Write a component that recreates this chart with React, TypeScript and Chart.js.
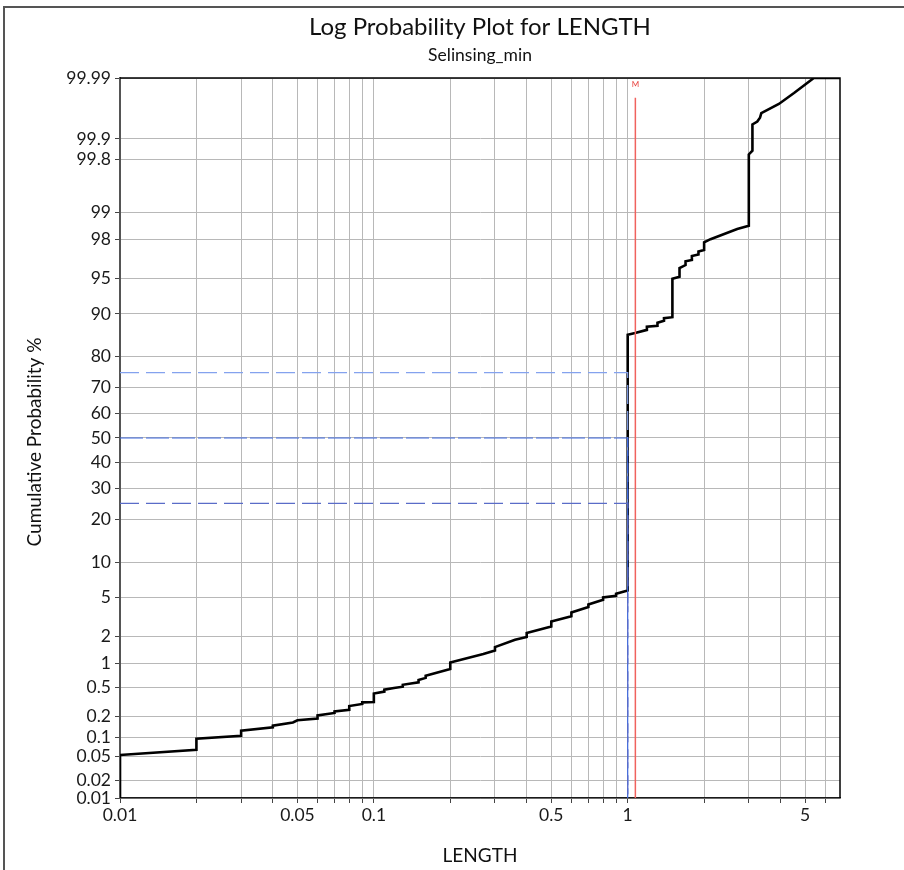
import React, { useEffect, useRef } from "react";
import { Chart, registerables } from "chart.js";

Chart.register(...registerables);

const titleText = "Log Probability Plot for LENGTH";
const subtitleText = "Selinsing_min";
const xAxisTitle = "LENGTH";
const yAxisTitle = "Cumulative Probability %";

const probTicks = [0.01, 0.02, 0.05, 0.1, 0.2, 0.5, 1, 2, 5, 10, 20, 30, 40, 50, 60, 70, 80, 90, 95, 98, 99, 99.8, 99.9, 99.99];
const probTickLabels = ["0.01", "0.02", "0.05", "0.1", "0.2", "0.5", "1", "2", "5", "10", "20", "30", "40", "50", "60", "70", "80", "90", "95", "98", "99", "99.8", "99.9", "99.99"];

const lengthTicks = [0.01, 0.02, 0.03, 0.04, 0.05, 0.06, 0.07, 0.08, 0.09, 0.1, 0.2, 0.3, 0.4, 0.5, 0.6, 0.7, 0.8, 0.9, 1, 2, 3, 4, 5, 6];
const lengthTickLabels = ["0.01", "", "", "", "0.05", "", "", "", "", "0.1", "", "", "", "0.5", "", "", "", "", "1", "", "", "", "5", ""];
const lengthMin = 0.01;
const lengthMax = 6.86;
const probMin = 0.01;
const probMax = 99.99;

// cumulative curve vertices (LENGTH, cumulative %)
const curveLength = [
  0.01, 0.01, 0.02, 0.02, 0.03, 0.03, 0.04, 0.04, 0.048, 0.05, 0.06, 0.06, 0.07, 0.07, 0.08, 0.08, 0.09, 0.09,
  0.1, 0.1, 0.11, 0.11, 0.12, 0.13, 0.13, 0.14, 0.15, 0.15, 0.16, 0.16, 0.2, 0.2, 0.27, 0.3, 0.3, 0.36, 0.4, 0.4,
  0.5, 0.5, 0.6, 0.6, 0.7, 0.7, 0.8, 0.8, 0.9, 0.9, 1.0, 1.0, 1.07, 1.19, 1.19, 1.31, 1.31, 1.39, 1.39, 1.5, 1.5,
  1.6, 1.6, 1.69, 1.69, 1.79, 1.79, 1.9, 1.9, 2.0, 2.0, 2.12, 2.7, 3.0, 3.0, 3.1, 3.1, 3.24, 3.32, 3.36, 3.94, 4.52, 5.41, 6.86,
];
const curveProb = [
  0.01, 0.053, 0.064, 0.095, 0.105, 0.125, 0.14, 0.148, 0.165, 0.177, 0.188, 0.208, 0.225, 0.237, 0.25, 0.281, 0.3, 0.316,
  0.32, 0.415, 0.44, 0.466, 0.49, 0.51, 0.54, 0.56, 0.58, 0.62, 0.66, 0.7, 0.85, 1.02, 1.28, 1.41, 1.54, 1.86, 1.99, 2.2,
  2.58, 2.9, 3.27, 3.58, 4.04, 4.28, 4.74, 4.98, 5.16, 5.38, 5.77, 85.7, 86.1, 86.8, 87.5, 87.7, 88.3, 88.7, 89.2, 89.4, 95.0,
  95.2, 96.05, 96.3, 96.6, 96.7, 97.0, 97.1, 97.3, 97.4, 97.84, 98.0, 98.46, 98.58, 99.83, 99.85, 99.94, 99.946, 99.953, 99.9606, 99.972, 99.9817, 99.99, 99.99,
];

const quartileProbs = [25, 50, 75];
const quartileLengths = [1.0, 1.0, 1.0];
const quartileColors = ["#5a6cc8", "#3d68e0", "#84a2ee"];
const quartileDashes = [[19, 7], [23, 3], [19, 7]];
const meanLength = 1.072;
const meanTopProb = 99.978;
const meanLabel = "M";

function probit(pPercent: number): number {
  const p = pPercent / 100;
  const a = [-3.969683028665376e1, 2.209460984245205e2, -2.759285104469687e2, 1.38357751867269e2, -3.066479806614716e1, 2.506628277459239];
  const b = [-5.447609879822406e1, 1.615858368580409e2, -1.556989798598866e2, 6.680131188771972e1, -1.328068155288572e1];
  const c = [-7.784894002430293e-3, -3.223964580411365e-1, -2.400758277161838, -2.549732539343734, 4.374664141464968, 2.938163982698783];
  const d = [7.784695709041462e-3, 3.224671290700398e-1, 2.445134137142996, 3.754408661907416];
  const pl = 0.02425;
  if (p < pl) {
    const q = Math.sqrt(-2 * Math.log(p));
    return (((((c[0] * q + c[1]) * q + c[2]) * q + c[3]) * q + c[4]) * q + c[5]) / ((((d[0] * q + d[1]) * q + d[2]) * q + d[3]) * q + 1);
  }
  if (p <= 1 - pl) {
    const q = p - 0.5;
    const r = q * q;
    return ((((((a[0] * r + a[1]) * r + a[2]) * r + a[3]) * r + a[4]) * r + a[5]) * q) / (((((b[0] * r + b[1]) * r + b[2]) * r + b[3]) * r + b[4]) * r + 1);
  }
  const q = Math.sqrt(-2 * Math.log(1 - p));
  return -(((((c[0] * q + c[1]) * q + c[2]) * q + c[3]) * q + c[4]) * q + c[5]) / ((((d[0] * q + d[1]) * q + d[2]) * q + d[3]) * q + 1);
}

const FONT = "Lato";

const textPlugin = {
  id: "probTexts",
  afterDraw(chart: any) {
    const { ctx, chartArea: a } = chart;
    const xs = chart.scales.x;
    ctx.save();
    ctx.strokeStyle = "#000";
    ctx.lineWidth = 1.5;
    ctx.beginPath();
    ctx.moveTo(a.left, a.top);
    ctx.lineTo(a.right, a.top);
    ctx.lineTo(a.right, a.bottom);
    ctx.stroke();

    ctx.fillStyle = "#111";
    ctx.textAlign = "center";
    ctx.textBaseline = "middle";
    const cx = (a.left + a.right) / 2;
    ctx.font = `24px ${FONT}`;
    ctx.fillText(titleText, cx, 27);
    ctx.font = `17.5px ${FONT}`;
    ctx.fillText(subtitleText, cx, 55);
    ctx.font = `19px ${FONT}`;
    ctx.fillText(xAxisTitle, cx, 856);
    ctx.save();
    ctx.translate(35, (a.top + a.bottom) / 2 + 4);
    ctx.rotate(-Math.PI / 2);
    ctx.fillText(yAxisTitle, 0, 0);
    ctx.restore();

    ctx.fillStyle = "#e8403c";
    ctx.font = `8px ${FONT}`;
    ctx.fillText(meanLabel, xs.getPixelForValue(meanLength), a.top + 6);
    ctx.restore();
  },
};

export default function App() {
  const ref = useRef<HTMLCanvasElement | null>(null);

  useEffect(() => {
    const canvas = ref.current;
    if (!canvas) return;

    const curveData = curveLength.map((x, i) => ({ x, y: probit(curveProb[i]) }));
    const quartileSets = quartileProbs.map((p, i) => ({
      data: [
        { x: lengthMin, y: probit(p) },
        { x: quartileLengths[i], y: probit(p) },
        { x: quartileLengths[i], y: probit(probMin) },
      ],
      borderColor: quartileColors[i],
      borderWidth: 1.2,
      borderDash: quartileDashes[i],
      pointRadius: 0,
      order: 1,
    }));

    const chart = new Chart(canvas, {
      type: "line",
      data: {
        datasets: [
          {
            data: [
              { x: meanLength, y: probit(probMin) },
              { x: meanLength, y: probit(meanTopProb) },
            ],
            borderColor: "#f0625e",
            borderWidth: 1.5,
            pointRadius: 0,
            order: 0,
          },
          ...quartileSets,
          {
            data: curveData,
            borderColor: "#000",
            borderWidth: 2.6,
            pointRadius: 0,
            tension: 0,
            order: 2,
          },
        ] as any,
      },
      options: {
        animation: false,
        responsive: false,
        maintainAspectRatio: false,
        parsing: false as any,
        layout: { padding: { left: 0, right: 64, top: 78, bottom: 0 } },
        plugins: { legend: { display: false }, tooltip: { enabled: false }, title: { display: false } },
        scales: {
          x: {
            type: "logarithmic",
            min: lengthMin,
            max: lengthMax,
            bounds: "data",
            afterBuildTicks: (s: any) => {
              s.ticks = lengthTicks.map((v) => ({ value: v }));
            },
            afterFit: (s: any) => {
              s.height = 72;
            },
            ticks: {
              autoSkip: false,
              maxRotation: 0,
              minRotation: 0,
              padding: 2,
              color: "#1a1a1a",
              font: { family: FONT, size: 17.5 },
              callback: (_v: any, i: number) => lengthTickLabels[i],
            },
            grid: { color: "#b8b8b8", lineWidth: 1, tickLength: 5, tickColor: "#444" },
            border: { color: "#1a1a1a", width: 1.5 },
          } as any,
          y: {
            type: "linear",
            min: probit(probMin),
            max: probit(probMax),
            bounds: "data",
            afterBuildTicks: (s: any) => {
              s.ticks = probTicks.map((p) => ({ value: probit(p) }));
            },
            afterFit: (s: any) => {
              s.width = 120;
            },
            ticks: {
              autoSkip: false,
              padding: 4,
              color: "#1a1a1a",
              font: { family: FONT, size: 17.5 },
              callback: (_v: any, i: number) => probTickLabels[i],
            },
            grid: { color: "#b8b8b8", lineWidth: 1, tickLength: 5, tickColor: "#444" },
            border: { color: "#555", width: 2 },
          } as any,
        },
      },
      plugins: [textPlugin],
    });

    return () => chart.destroy();
  }, []);

  return (
    <div style={{ position: "fixed", left: 0, top: 0, width: 904, height: 870, background: "#fff" }}>
      <div
        style={{
          position: "absolute",
          left: 3,
          top: 6,
          width: 901,
          height: 864,
          borderLeft: "2px solid #555",
          borderTop: "2px solid #555",
          boxSizing: "border-box",
        }}
      />
      <canvas ref={ref} width={904} height={870} style={{ position: "absolute", left: 0, top: 0, width: 904, height: 870 }} />
    </div>
  );
}
